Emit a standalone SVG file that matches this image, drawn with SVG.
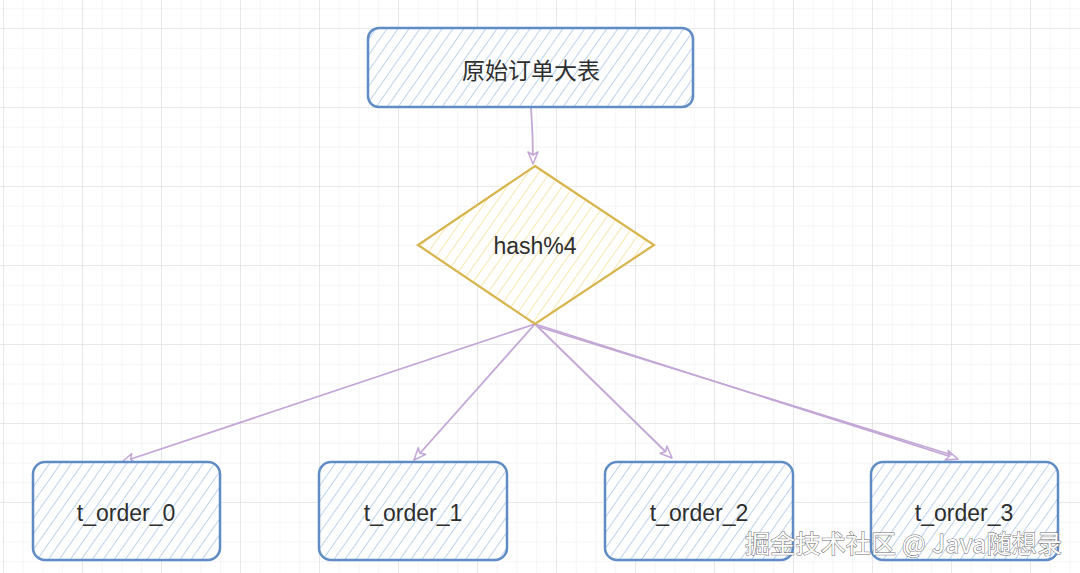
<svg xmlns="http://www.w3.org/2000/svg" width="1080" height="573" viewBox="0 0 1080 573">
  <defs>
    <pattern id="gridMinor" x="3" y="28" width="19.75" height="19.75" patternUnits="userSpaceOnUse">
      <path d="M0 0 V19.75 M0 0 H19.75" fill="none" stroke="#ececec" stroke-width="1"/>
    </pattern>
    <pattern id="gridMajor" x="3" y="28" width="79" height="79" patternUnits="userSpaceOnUse">
      <path d="M0 0 V79 M0 0 H79" fill="none" stroke="#dedede" stroke-width="1.2"/>
    </pattern>
    <pattern id="hatchBlue" width="9" height="9" patternUnits="userSpaceOnUse" patternTransform="rotate(35)">
      <rect width="9" height="9" fill="#ffffff"/>
      <line x1="0" y1="0" x2="0" y2="9" stroke="#bcd3ee" stroke-width="2"/>
    </pattern>
    <pattern id="hatchYellow" width="9" height="9" patternUnits="userSpaceOnUse" patternTransform="rotate(35)">
      <rect width="9" height="9" fill="#ffffff"/>
      <line x1="0" y1="0" x2="0" y2="9" stroke="#f6e7b0" stroke-width="2"/>
    </pattern>
    <marker id="arrow" viewBox="0 0 14 12" refX="13" refY="6" markerWidth="14" markerHeight="12" markerUnits="userSpaceOnUse" orient="auto">
      <path d="M1 1 L13 6 L1 11 L4 6 Z" fill="#ffffff" stroke="#c3a6d6" stroke-width="1.5" stroke-linejoin="round"/>
    </marker>
  </defs>
  <style>
    .box { fill: url(#hatchBlue); stroke: #5f8cc4; stroke-width: 2.5; }
    .dia { fill: url(#hatchYellow); stroke: #d8b44c; stroke-width: 2.2; }
    .lbl { font-family: "Liberation Sans", "Noto Sans CJK SC", sans-serif; font-size: 23px; fill: #2e2e2e; text-anchor: middle; }
    .edge { fill: none; stroke: #c3a6d6; stroke-width: 1.8; marker-end: url(#arrow); }
    .wm { font-family: "Noto Sans CJK SC", "Liberation Sans", sans-serif; font-size: 25px; fill: #ffffff; stroke: #6a6a6a; stroke-width: 1; paint-order: stroke; }
  </style>
  <rect width="1080" height="573" fill="#ffffff"/>
  <rect width="1080" height="573" fill="url(#gridMinor)"/>
  <rect width="1080" height="573" fill="url(#gridMajor)"/>

  <g id="connectors">
    <path class="edge" d="M531 107 Q533 135 533 164"/>
    <path class="edge" d="M535 324 L122 462"/>
    <path class="edge" d="M535 324 L414 460"/>
    <path class="edge" d="M535 324 L672 458"/>
    <path class="edge" d="M535 324 L958 459"/>
    <path d="M539 327 L952 455" fill="none" stroke="#c3a6d6" stroke-width="1.5"/>
  </g>

  <g id="node-source">
    <rect class="box" x="368" y="28" width="325" height="79" rx="11"/>
    <text class="lbl" x="531" y="79">原始订单大表</text>
  </g>

  <g id="node-hash">
    <polygon class="dia" points="535,166 654,245 535,324 418,245"/>
    <text class="lbl" x="535" y="254">hash%4</text>
  </g>

  <g id="node-t0">
    <rect class="box" x="33" y="462" width="187" height="98" rx="12"/>
    <text class="lbl" x="126" y="521">t_order_0</text>
  </g>
  <g id="node-t1">
    <rect class="box" x="319" y="462" width="188" height="98" rx="12"/>
    <text class="lbl" x="413" y="521">t_order_1</text>
  </g>
  <g id="node-t2">
    <rect class="box" x="605" y="462" width="188" height="98" rx="12"/>
    <text class="lbl" x="699" y="521">t_order_2</text>
  </g>
  <g id="node-t3">
    <rect class="box" x="871" y="462" width="187" height="98" rx="12"/>
    <text class="lbl" x="964" y="521">t_order_3</text>
  </g>

  <text class="wm" x="745" y="553" textLength="317" lengthAdjust="spacing">掘金技术社区 @ Java随想录</text>
</svg>
